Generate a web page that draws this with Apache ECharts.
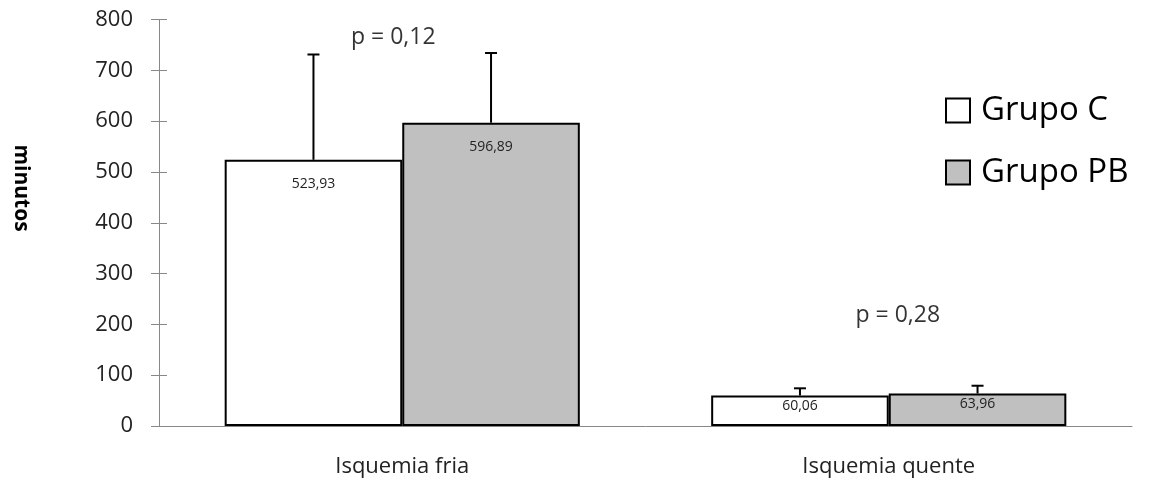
<!DOCTYPE html>
<html>
<head>
<meta charset="utf-8">
<script src="https://cdn.jsdelivr.net/npm/echarts@6/dist/echarts.min.js"></script>
<style>
  html, body { margin: 0; padding: 0; background: #fff; }
  #chart { width: 1150px; height: 484px; }
</style>
</head>
<body>
<div id="chart"></div>
<script>
const categories = ['Isquemia fria', 'Isquemia quente'];
const seriesNames = ['Grupo C', 'Grupo PB'];
const valuesC = [523.93, 60.06];
const valuesPB = [596.89, 63.96];
const sdC = [207.2, 14.1];
const sdPB = [137.2, 15.3];
const pLabels = ['p = 0,12', 'p = 0,28'];
const pLabelY = [765, 218];
const yTicks = { min: 0, max: 800, interval: 100 };
const yTitle = 'minutos';

const FONT = '"Open Sans", "Liberation Sans", sans-serif';
const GAP = 0.27;

function fmt(v) { return v.toFixed(2).replace('.', ','); }

function errorSeries(values, sds, sign) {
  return {
    type: 'custom',
    silent: true,
    z: 1,
    data: values.map((v, i) => [i, v, sds[i]]),
    renderItem: function (params, api) {
      const base = api.coord([api.value(0), api.value(1)]);
      const top = api.coord([api.value(0), api.value(1) + api.value(2)]);
      const band = api.size([1, 0])[0];
      const bw = band * (1 - GAP) / 2;
      const x = base[0] + sign * bw / 2;
      const cap = 6;
      const st = { stroke: '#000', lineWidth: 2 };
      return {
        type: 'group',
        children: [
          { type: 'line', shape: { x1: x, y1: base[1], x2: x, y2: top[1] }, style: st },
          { type: 'line', shape: { x1: x - cap, y1: top[1], x2: x + cap, y2: top[1] }, style: st }
        ]
      };
    }
  };
}

const labelDist = [17, 4];

function barSeries(name, values, color) {
  return {
    name: name,
    type: 'bar',
    z: 2,
    barGap: '0%',
    barCategoryGap: (GAP * 100) + '%',
    itemStyle: { color: color, borderColor: '#000', borderWidth: 2 },
    data: values.map((v, i) => ({
      value: v,
      label: { distance: labelDist[i] }
    })),
    label: {
      show: true,
      position: 'insideTop',
      fontFamily: FONT,
      fontSize: 14,
      color: '#222',
      formatter: p => fmt(p.value)
    }
  };
}

const pOffsetX = [-9, 9];

const chart = echarts.init(document.getElementById('chart'), null, { renderer: 'canvas' });
chart.setOption({
  animation: false,
  backgroundColor: '#fff',
  textStyle: { fontFamily: FONT },
  grid: { left: 159, right: 18, top: 19.5, bottom: 58, containLabel: false },
  legend: {
    data: seriesNames,
    orient: 'vertical',
    left: 940,
    top: 89,
    itemWidth: 24,
    itemHeight: 24,
    itemGap: 29,
    icon: 'rect',
    textStyle: { fontFamily: FONT, fontSize: 33, color: '#000', padding: [0, 0, 0, 6] },
    itemStyle: { borderColor: '#000', borderWidth: 2 }
  },
  xAxis: {
    type: 'category',
    data: categories,
    axisLine: { show: true, lineStyle: { color: '#888', width: 1 } },
    axisTick: { show: false },
    axisLabel: { fontFamily: FONT, fontSize: 22, color: '#222', margin: 30 },
    splitLine: { show: false }
  },
  yAxis: [{
    type: 'value',
    min: yTicks.min, max: yTicks.max, interval: yTicks.interval,
    axisLine: { show: true, lineStyle: { color: '#888', width: 1 } },
    axisTick: { show: true, length: 8, lineStyle: { color: '#888' } },
    axisLabel: { fontFamily: FONT, fontSize: 22, color: '#222', margin: 26 },
    splitLine: { show: false }
  }, {
    type: 'value',
    position: 'left',
    min: yTicks.min, max: yTicks.max, interval: yTicks.interval,
    axisLine: { show: false },
    axisTick: { show: true, inside: true, length: 8, lineStyle: { color: '#888' } },
    axisLabel: { show: false },
    splitLine: { show: false }
  }],
  graphic: [{
    type: 'text',
    x: 21, y: 188,
    rotation: -Math.PI / 2,
    style: {
      text: yTitle,
      fontFamily: FONT,
      fontSize: 21,
      fontWeight: 'bold',
      fill: '#000',
      textAlign: 'center',
      textVerticalAlign: 'middle'
    }
  }],
  series: [
    errorSeries(valuesC, sdC, -1),
    errorSeries(valuesPB, sdPB, 1),
    barSeries(seriesNames[0], valuesC, '#ffffff'),
    barSeries(seriesNames[1], valuesPB, '#c0c0c0'),
    {
      type: 'scatter',
      silent: true,
      symbolSize: 0,
      data: pLabels.map((t, i) => ({
        value: [i, pLabelY[i]],
        label: { offset: [pOffsetX[i], 0] }
      })),
      label: {
        show: true,
        position: 'inside',
        fontFamily: FONT,
        fontSize: 23,
        color: '#000',
        formatter: p => pLabels[p.dataIndex]
      }
    }
  ]
});
</script>
</body>
</html>
